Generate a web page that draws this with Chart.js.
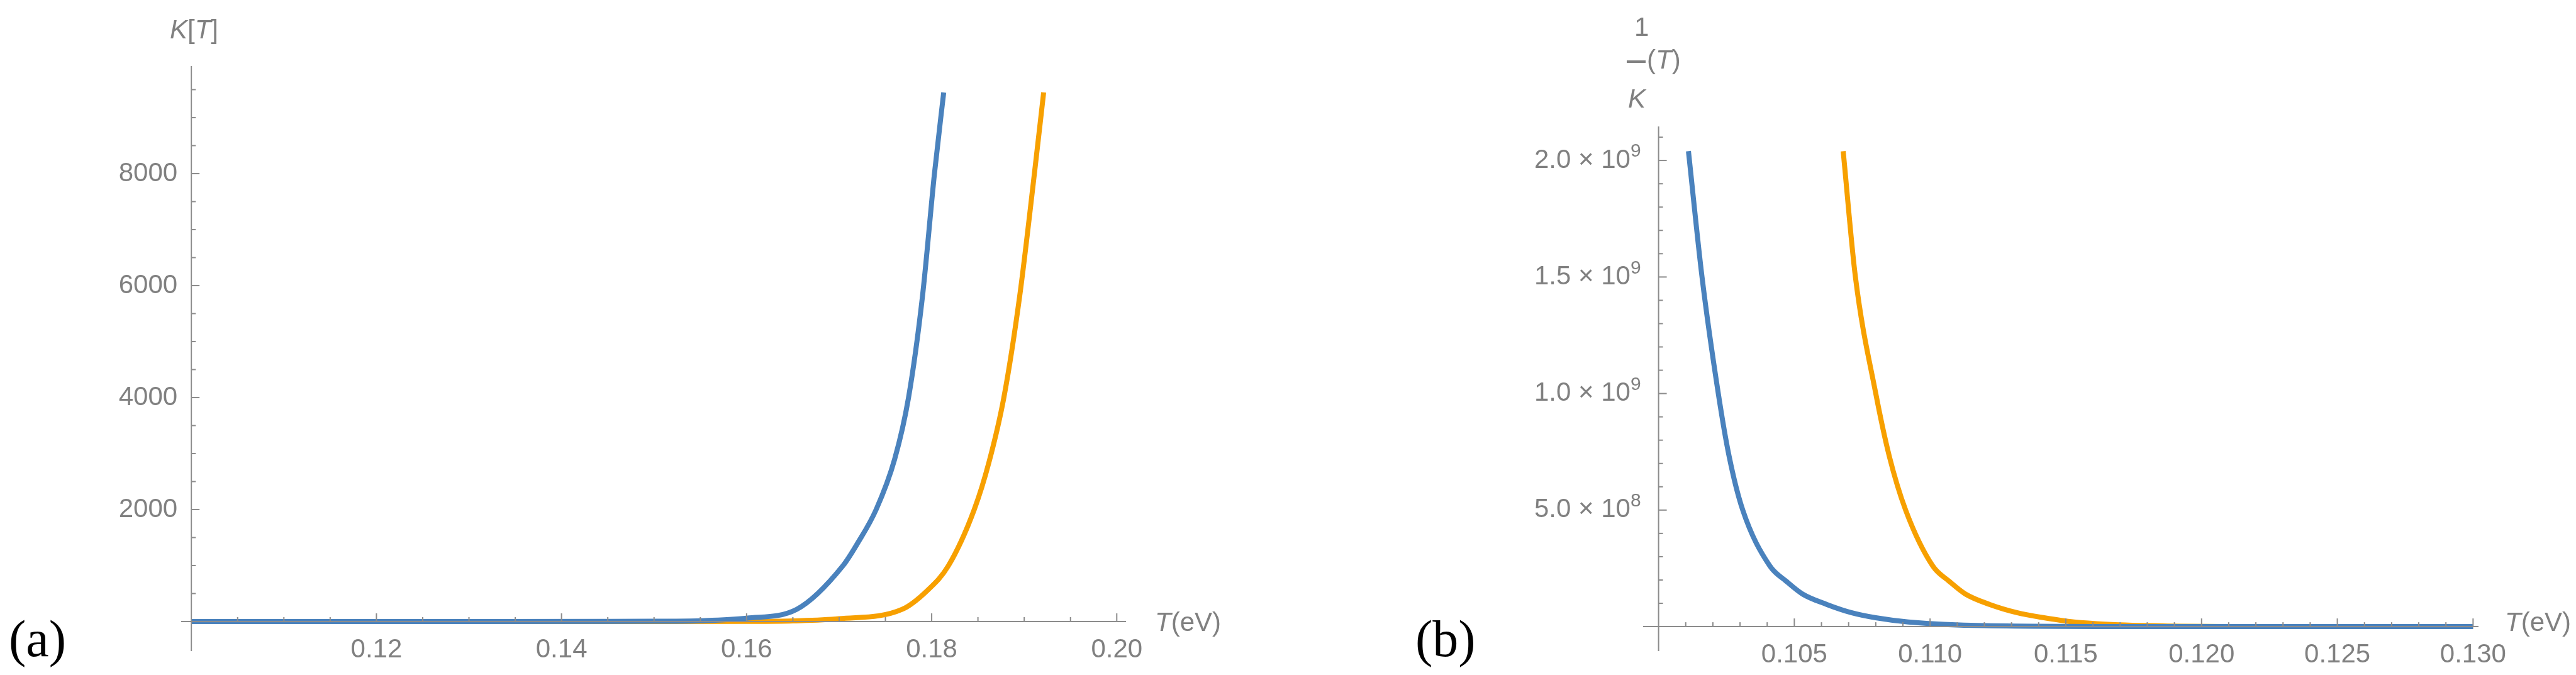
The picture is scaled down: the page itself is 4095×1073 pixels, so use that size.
<!DOCTYPE html>
<html><head><meta charset="utf-8">
<script src="https://cdn.jsdelivr.net/npm/chart.js@4/dist/chart.umd.min.js"></script>
<style>
body{margin:0;background:#fff;width:4095px;height:1073px;position:relative;overflow:hidden}
canvas{position:absolute;top:0}
.t{position:absolute;font-family:'Liberation Sans',sans-serif;color:#808080;font-size:42px;white-space:nowrap;line-height:1}
.s{position:absolute;font-family:'Liberation Serif',serif;color:#000;font-size:82px;line-height:1}
</style></head><body>
<canvas id="c1" width="2048" height="1073" style="left:0"></canvas>
<canvas id="c2" width="2047" height="1073" style="left:2048px"></canvas>
<div class="s" style="left:14px;top:975px">(a)</div>
<div class="s" style="left:2250px;top:975px">(b)</div>
<div class="t" style="left:270px;top:26px"><i>K</i>[<i>T</i>]</div>
<div class="t" style="left:1836px;top:968px"><i>T</i>(eV)</div>
<div class="t" style="left:3982px;top:968px"><i>T</i>(eV)</div>
<div class="t" style="left:2598px;top:22px">1</div>
<div class="t" style="left:2586px;top:74px"><span style="display:inline-block;width:30px;height:4px;background:#808080;vertical-align:middle;margin-right:2px"></span>(<i>T</i>)</div>
<div class="t" style="left:2588px;top:136px"><i>K</i></div>
<script>
// Panel (a)
const aBlueT = [0.100,0.130,0.145,0.150,0.155,0.160,0.1654,0.1704,0.1720,0.1740,0.1760,0.1775,0.1790,0.1803,0.1813];
const aBlueK = [0,0.5,2,5,15,60,217,994,1400,2000,2900,4000,5800,8000,9450];
const aOrangeT = [0.100,0.150,0.160,0.165,0.170,0.1768,0.1795,0.1818,0.1846,0.1862,0.1878,0.1895,0.1911,0.1921];
const aOrangeK = [0,0.5,3,12,50,217,550,994,2000,2850,4000,5800,8000,9450];
const aXTicks = [0.12,0.14,0.16,0.18,0.20];
const aXLabels = ['0.12','0.14','0.16','0.18','0.20'];
const aYTicks = [2000,4000,6000,8000];
const aYLabels = ['2000','4000','6000','8000'];
// Panel (b)
const bBlueT = [0.1011,0.1016,0.1022,0.1026,0.1031,0.1041,0.1047,0.1053,0.1062,0.1071,0.1080,0.1092,0.1120,0.1180,0.1300];
const bBlueV = [2.04e9,1.5e9,1.0e9,7.3e8,5e8,2.6e8,1.95e8,1.4e8,9.5e7,6e7,3.8e7,2e7,4e6,0,0];
const bOrangeT = [0.1068,0.10725,0.1080,0.1085,0.1091,0.1101,0.1107,0.1113,0.1122,0.1132,0.1142,0.1153,0.1180,0.1220,0.1300];
const bOrangeV = [2.04e9,1.5e9,1.0e9,7.3e8,5e8,2.6e8,1.95e8,1.4e8,9.5e7,6e7,3.8e7,2e7,4e6,0,0];
const bXTicks = [0.105,0.110,0.115,0.120,0.125,0.130];
const bXLabels = ['0.105','0.110','0.115','0.120','0.125','0.130'];
const bYTicks = [5e8,1e9,1.5e9,2e9];
const bYMant = ['5.0','1.0','1.5','2.0'];
const bYExp = ['8','9','9','9'];

const BLUE='#4a82bd', ORANGE='#f7a000', GRAY='#8c8c8c';
const pts=(xs,ys)=>xs.map((x,i)=>({x,y:ys[i]}));

function axesPlugin(cfg){
  return {id:'ax',afterDraw(ch){
    const c=ch.ctx,x=ch.scales.x,y=ch.scales.y,a=ch.chartArea;
    const x0=x.getPixelForValue(cfg.x0), y0=y.getPixelForValue(0);
    c.save();c.strokeStyle=GRAY;c.lineWidth=2;
    c.beginPath();c.moveTo(a.left,y0);c.lineTo(a.right,y0);c.moveTo(x0,a.top);c.lineTo(x0,a.bottom);c.stroke();
    for(let v=cfg.x0+cfg.xm;v<=x.max+1e-12;v+=cfg.xm){
      const maj=cfg.xt.some(t=>Math.abs(t-v)<cfg.xm/10);
      const px=x.getPixelForValue(v);c.beginPath();c.moveTo(px,y0);c.lineTo(px,y0-(maj?13:7));c.stroke();}
    for(let v=cfg.ym;v<=y.max;v+=cfg.ym){
      const maj=cfg.yt.some(t=>Math.abs(t-v)<cfg.ym/10);
      const py=y.getPixelForValue(v);c.beginPath();c.moveTo(x0,py);c.lineTo(x0+(maj?13:7),py);c.stroke();}
    c.fillStyle='#808080';c.font='42px "Liberation Sans", sans-serif';c.textBaseline='middle';
    c.textAlign='center';
    cfg.xt.forEach((t,i)=>c.fillText(cfg.xl[i],x.getPixelForValue(t),y0+45));
    c.textAlign='right';
    cfg.yt.forEach((t,i)=>{const py=y.getPixelForValue(t);
      if(cfg.ye){c.font='30px "Liberation Sans", sans-serif';const w=c.measureText(cfg.ye[i]).width;
        c.fillText(cfg.ye[i],x0-28,py-14);c.font='42px "Liberation Sans", sans-serif';
        c.fillText(cfg.yl[i]+' \u00d7 10',x0-28-w,py);}
      else c.fillText(cfg.yl[i],x0-22,py);});
    c.restore();}};
}
function mk(id,ds,pad,xr,yr,cfg){
  new Chart(document.getElementById(id),{type:'scatter',
    data:{datasets:ds.map(d=>({data:d.d,borderColor:d.c,borderWidth:8,showLine:true,pointRadius:0,cubicInterpolationMode:'monotone',fill:false}))},
    options:{responsive:false,animation:false,devicePixelRatio:1,layout:{padding:pad},
      plugins:{legend:{display:false},tooltip:{enabled:false}},
      scales:{x:{type:'linear',min:xr[0],max:xr[1],display:false},y:{type:'linear',min:yr[0],max:yr[1],display:false}}},
    plugins:[axesPlugin(cfg)]});
}
mk('c1',[{d:pts(aBlueT,aBlueK),c:BLUE},{d:pts(aOrangeT,aOrangeK),c:ORANGE}],
  {left:288,right:258,top:105,bottom:38},[0.0989,0.201],[-528,9921],
  {x0:0.10,xm:0.005,ym:500,xt:aXTicks,xl:aXLabels,yt:aYTicks,yl:aYLabels});
mk('c2',[{d:pts(bBlueT,bBlueV),c:BLUE},{d:pts(bOrangeT,bOrangeV),c:ORANGE}],
  {left:564,right:155,top:201,bottom:38},[0.09943,0.1302],[-1.05e8,2.146e9],
  {x0:0.10,xm:0.001,ym:1e8,xt:bXTicks,xl:bXLabels,yt:bYTicks,yl:bYMant,ye:bYExp});
</script></body></html>
